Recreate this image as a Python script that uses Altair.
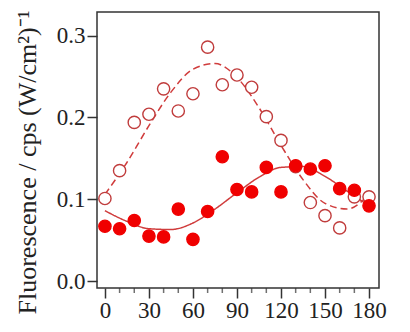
import altair as alt
import pandas as pd

FONT = "Liberation Serif"

angles = list(range(0, 181, 10))
peak5 = [0.067, 0.064, 0.074, 0.055, 0.054, 0.088, 0.051, 0.085, 0.152, 0.112,
         0.109, 0.139, 0.109, 0.141, 0.137, 0.141, 0.113, 0.111, 0.092]
peak6 = [0.101, 0.135, 0.194, 0.204, 0.235, 0.208, 0.229, 0.286, 0.240, 0.252,
         0.237, 0.201, 0.172, 0.140, 0.096, 0.080, 0.065, 0.103, 0.103]

fit_angles = list(range(0, 181, 15))
fit5 = [0.086, 0.073, 0.064, 0.063, 0.071, 0.088, 0.108, 0.127, 0.139, 0.140,
        0.128, 0.110, 0.092]
fit6 = [0.106, 0.145, 0.190, 0.231, 0.259, 0.266, 0.249, 0.212, 0.166, 0.124,
        0.095, 0.088, 0.106]

series_names = ["Peak 5", "Peak 6"]
major_ticks = [0, 30, 60, 90, 120, 150, 180]
minor_ticks = [10, 20, 40, 50, 70, 80, 100, 110, 130, 140, 160, 170]
y_ticks = [0.0, 0.1, 0.2, 0.3]

pts = pd.DataFrame({
    "angle": angles + angles,
    "value": peak6 + peak5,
    "series": ["Peak 6"] * len(angles) + ["Peak 5"] * len(angles),
})
fits = pd.DataFrame({
    "angle": fit_angles + fit_angles,
    "value": fit5 + fit6,
    "series": ["Peak 5"] * len(fit_angles) + ["Peak 6"] * len(fit_angles),
})
minor_df = pd.DataFrame({"angle": minor_ticks})

xscale = alt.Scale(domain=[-5.4, 186.8], nice=False, zero=False)
yscale = alt.Scale(domain=[-0.0085, 0.329], nice=False, zero=False)

x_axis = alt.Axis(values=major_ticks, tickSize=10, tickWidth=1.5, tickColor="#333",
                  labelFont=FONT, labelFontSize=23, labelColor="#222", labelPadding=1,
                  labelFlush=False, domain=False, grid=False, title=None)

y_axis = alt.Axis(values=y_ticks, format=".1f", tickSize=10, tickWidth=1.5, tickColor="#333",
                  labelFont=FONT, labelFontSize=23, labelColor="#222", labelPadding=2,
                  domain=False, grid=False,
                  title="Fluorescence / cps (W/cm²)⁻¹", titleFont=FONT, titleFontSize=26,
                  titleFontWeight="normal", titleColor="#222", titleAngle=-90,
                  titleX=-62, titleY=150, titleAlign="center", titleBaseline="alphabetic")

legend = alt.Legend(title=None, orient="top-right", offset=8, padding=0,
                    labelFont=FONT, labelFontSize=22, labelColor="#222", labelOffset=22,
                    symbolSize=150, symbolStrokeWidth=1.4, rowPadding=3)

lines = alt.Chart(fits).mark_line(interpolate="monotone", strokeWidth=1.5, color="#d03c3c").encode(
    x=alt.X("angle:Q", scale=xscale, axis=x_axis),
    y=alt.Y("value:Q", scale=yscale, axis=y_axis),
    detail="series:N",
    strokeDash=alt.StrokeDash("series:N", scale=alt.Scale(domain=series_names, range=[[1, 0], [7, 4]]),
                              legend=None),
)

points = alt.Chart(pts).mark_point(shape="circle", size=150, strokeWidth=1.4, opacity=1,
                                   fillOpacity=1).encode(
    x=alt.X("angle:Q", scale=xscale),
    y=alt.Y("value:Q", scale=yscale),
    fill=alt.Fill("series:N", scale=alt.Scale(domain=series_names,
                                              range=["#f00000", "#ffffff"]),
                  legend=legend),
    stroke=alt.Stroke("series:N", scale=alt.Scale(domain=series_names,
                                                  range=["#f00000", "#c03c3c"]),
                      legend=legend),
)

minor = alt.Chart(minor_df).mark_rule(color="#333333", strokeWidth=1.5).encode(
    x=alt.X("angle:Q", scale=xscale),
    y=alt.value(-5),
    y2=alt.value(0),
    yOffset=alt.value(0),
)

minor_bottom = alt.Chart(minor_df).mark_tick(color="#333333", thickness=1.5, size=5).encode(
    x=alt.X("angle:Q", scale=xscale),
    y=alt.YDatum(-0.0085, scale=yscale),
    yOffset=alt.value(2.5),
)

chart = alt.layer(lines, points, minor_bottom).properties(
    width=410, height=332,
    background="white",
    padding={"left": 14, "top": 10, "right": 28, "bottom": 10},
    autosize=alt.AutoSizeParams(type="fit", contains="padding"),
).configure_view(stroke="#333", strokeWidth=1.5)

chart.save("out.html", embed_options={"renderer": "svg", "actions": False})
